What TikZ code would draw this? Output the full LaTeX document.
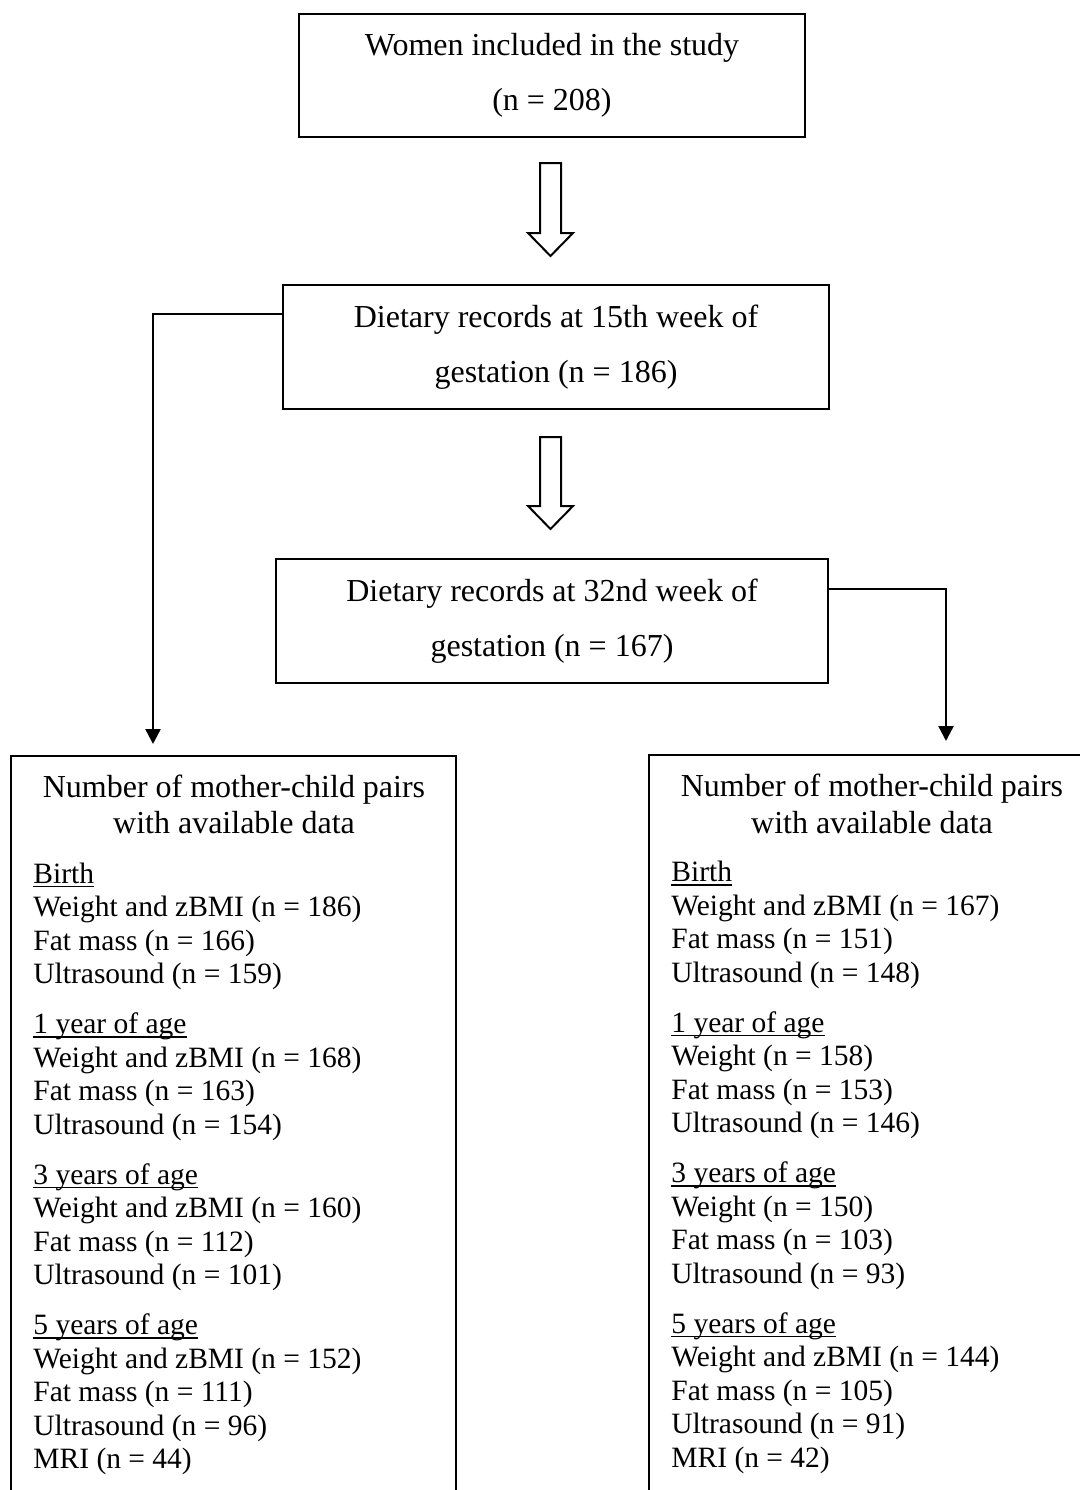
\documentclass[tikz,border=0pt]{standalone}
\usepackage{fontspec}
\setmainfont{Liberation Serif}
\usetikzlibrary{arrows.meta,calc}
\newcommand{\myul}[1]{\setbox0\hbox{#1}\rlap{\rule[-2pt]{\wd0}{0.6pt}}\box0}
\begin{document}
\begin{tikzpicture}[x=0.5pt,y=-0.5pt,
  box/.style={draw,line width=1pt,align=center,inner sep=0pt,font=\fontsize{16}{27.5}\selectfont},
  body/.style={anchor=base west,inner sep=0pt,font=\fontsize{14.75}{16.75}\selectfont},
  ttl/.style={anchor=base,inner sep=0pt,font=\fontsize{16}{18}\selectfont},
  conn/.style={line width=1.2pt,-{Triangle[length=7.5pt,width=7.5pt]}},
  hollow/.style={draw,line width=1pt,fill=white,line join=miter},
  openbox/.style={line width=1pt}]
\clip (0,0) rectangle (1080,1490);
\fill[white] (0,0) rectangle (1080,1490);
% main boxes
\node[box,minimum width=253pt,minimum height=61.5pt] (b1) at (552,75.5) {Women included in the study\\(n = 208)};
\node[box,minimum width=273pt,minimum height=62pt] (b2) at (556,347) {Dietary records at 15th week of\\gestation (n = 186)};
\node[box,minimum width=276pt,minimum height=62pt] (b3) at (552,621) {Dietary records at 32nd week of\\gestation (n = 167)};
% hollow arrows
\draw[hollow] (540,163) -- (561,163) -- (561,233) -- (573,233) -- (550.5,256) -- (528,233) -- (540,233) -- cycle;
\draw[hollow] (540,437) -- (561,437) -- (561,506) -- (573,506) -- (550.5,529) -- (528,506) -- (540,506) -- cycle;
% open-bottom boxes
\coordinate (lt) at (153,756);
\coordinate (rt) at (946,755);
\draw[openbox] (11,1500) -- (11,756) -- (456,756) -- (456,1500);
\draw[openbox] (1090,755) -- (649,755) -- (649,1500);
% connectors
\coordinate (y314) at (0,314);
\coordinate (y589) at (0,589);
\draw[conn] (b2.west |- y314) -| ($(lt)+(0,-12)$);
\draw[conn] (b3.east |- y589) -| ($(rt)+(0,-14)$);
% titles
\node[ttl] (lt1) at (234,797) {Number of mother-child pairs};
\node[ttl] (lt2) at (234,833) {with available data};
\node[ttl] (rt1) at (872,796) {Number of mother-child pairs};
\node[ttl] (rt2) at (872,833) {with available data};
% left body
\foreach \y/\t [count=\i] in {
  883/{\myul{Birth}}, 916.5/{Weight and zBMI (n = 186)}, 950/{Fat mass (n = 166)}, 983.5/{Ultrasound (n = 159)},
  1033.5/{\myul{1 year of age}}, 1067/{Weight and zBMI (n = 168)}, 1100.5/{Fat mass (n = 163)}, 1134/{Ultrasound (n = 154)},
  1184/{\myul{3 years of age}}, 1217.5/{Weight and zBMI (n = 160)}, 1251/{Fat mass (n = 112)}, 1284.5/{Ultrasound (n = 101)},
  1334.5/{\myul{5 years of age}}, 1368/{Weight and zBMI (n = 152)}, 1401.5/{Fat mass (n = 111)}, 1435/{Ultrasound (n = 96)}, 1468.5/{MRI (n = 44)}}
  \node[body] (l\i) at (33,\y) {\t};
% right body
\foreach \y/\t [count=\i] in {
  881.5/{\myul{Birth}}, 915/{Weight and zBMI (n = 167)}, 948.5/{Fat mass (n = 151)}, 982/{Ultrasound (n = 148)},
  1032/{\myul{1 year of age}}, 1065.5/{Weight (n = 158)}, 1099/{Fat mass (n = 153)}, 1132.5/{Ultrasound (n = 146)},
  1182.5/{\myul{3 years of age}}, 1216/{Weight (n = 150)}, 1249.5/{Fat mass (n = 103)}, 1283/{Ultrasound (n = 93)},
  1333/{\myul{5 years of age}}, 1366.5/{Weight and zBMI (n = 144)}, 1400/{Fat mass (n = 105)}, 1433.5/{Ultrasound (n = 91)}, 1467/{MRI (n = 42)}}
  \node[body] (r\i) at (671,\y) {\t};
\end{tikzpicture}
\end{document}
